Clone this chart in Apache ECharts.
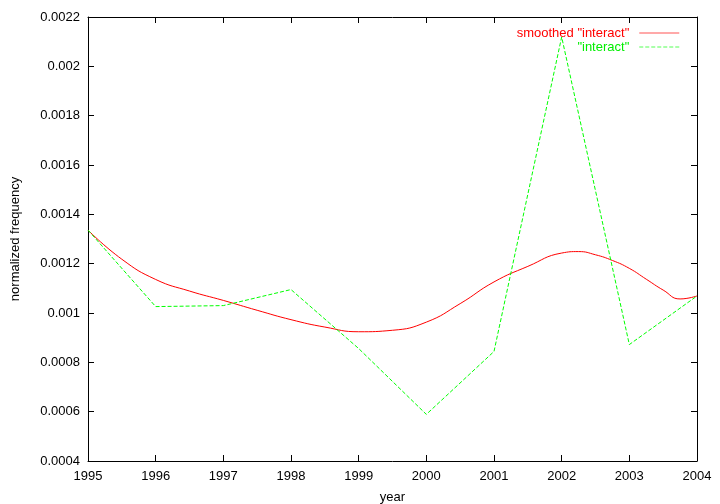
<!DOCTYPE html>
<html>
<head>
<meta charset="utf-8">
<script src="https://cdn.jsdelivr.net/npm/echarts@6/dist/echarts.min.js"></script>
<style>html,body{margin:0;padding:0;background:#fff}#c{width:720px;height:504px}</style>
</head>
<body>
<div id="c"></div>
<script>
// raw yearly values ("interact")
var years = [1995, 1996, 1997, 1998, 1999, 2000, 2001, 2002, 2003, 2004];
var interactValues = [0.001336, 0.001026, 0.00103, 0.001095, 0.000856, 0.000589, 0.000844, 0.002119, 0.000872, 0.001069];
// smoothed curve
var smoothYears = [1995, 1995.5, 1996, 1996.5, 1997, 1997.5, 1998, 1998.5, 1999, 1999.5, 2000, 2000.5, 2001, 2001.5, 2002, 2002.25, 2002.5, 2002.75, 2003, 2003.25, 2003.5, 2003.75, 2004];
var smoothValues = [0.001336, 0.001218, 0.001136, 0.001089, 0.001051, 0.001011, 0.000973, 0.000943, 0.000924, 0.000930, 0.000963, 0.001038, 0.001126, 0.001189, 0.001243, 0.001249, 0.001236, 0.001213, 0.001181, 0.001137, 0.001093, 0.001057, 0.001069];
var seriesNames = ['smoothed "interact"', '"interact"'];
var yTicks = {min: 0.0004, max: 0.0022, step: 0.0002};

function pairs(xs, ys) { return xs.map(function (x, i) { return [x, ys[i]]; }); }

var font = 'Liberation Sans, Arial, sans-serif';
var chart = echarts.init(document.getElementById('c'), null, {renderer: 'canvas'});
var axisLineStyle = {show: true, lineStyle: {color: '#000', width: 1}};
var tickStyle = {show: true, inside: true, length: 6, lineStyle: {color: '#000'}};
chart.setOption({
  animation: false,
  backgroundColor: '#fff',
  grid: {left: 88, right: 23, top: 17, bottom: 43, outerBoundsMode: 'none', containLabel: false},
  legend: {
    orient: 'vertical',
    right: 35,
    top: 21,
    align: 'right',
    itemWidth: 40,
    itemHeight: 10,
    itemGap: 0,
    itemStyle: {opacity: 0},
    lineStyle: {width: 1.5, opacity: 0.45},
    textStyle: {fontFamily: font, fontSize: 13, lineHeight: 14, padding: [0, 5, 0, 0]},
    data: [
      {name: seriesNames[0], textStyle: {color: '#ff0000'}},
      {name: seriesNames[1], textStyle: {color: '#00ee00'}}
    ]
  },
  xAxis: [{
    type: 'value', min: years[0], max: years[years.length - 1], interval: 1,
    position: 'bottom',
    name: 'year', nameLocation: 'middle', nameGap: 30,
    nameTextStyle: {color: '#000', fontFamily: font, fontSize: 13},
    axisLine: axisLineStyle, axisTick: tickStyle,
    axisLabel: {color: '#000', fontFamily: font, fontSize: 13, margin: 9, formatter: function (v) { return String(v); }},
    splitLine: {show: false}
  }, {
    type: 'value', min: years[0], max: years[years.length - 1], interval: 1,
    position: 'top',
    axisLine: axisLineStyle, axisTick: tickStyle, axisLabel: {show: false}, splitLine: {show: false}
  }],
  yAxis: [{
    type: 'value', min: yTicks.min, max: yTicks.max, interval: yTicks.step,
    position: 'left',
    name: 'normalized frequency', nameLocation: 'middle', nameGap: 66, nameRotate: 90,
    nameTextStyle: {color: '#000', fontFamily: font, fontSize: 13},
    axisLine: axisLineStyle, axisTick: tickStyle,
    axisLabel: {color: '#000', fontFamily: font, fontSize: 13, margin: 8, formatter: function (v) { return String(parseFloat(v.toFixed(5))); }},
    splitLine: {show: false}
  }, {
    type: 'value', min: yTicks.min, max: yTicks.max, interval: yTicks.step,
    position: 'right',
    axisLine: axisLineStyle, axisTick: tickStyle, axisLabel: {show: false}, splitLine: {show: false}
  }],
  series: [{
    name: seriesNames[0],
    type: 'line',
    data: pairs(smoothYears, smoothValues),
    smooth: 0.5,
    symbol: 'none',
    lineStyle: {color: '#ff0000', width: 1},
    itemStyle: {color: '#ff0000'}
  }, {
    name: seriesNames[1],
    type: 'line',
    data: pairs(years, interactValues),
    symbol: 'none',
    lineStyle: {color: '#00ff00', width: 1, type: [4, 2]},
    itemStyle: {color: '#00ff00'}
  }]
});
</script>
</body>
</html>
